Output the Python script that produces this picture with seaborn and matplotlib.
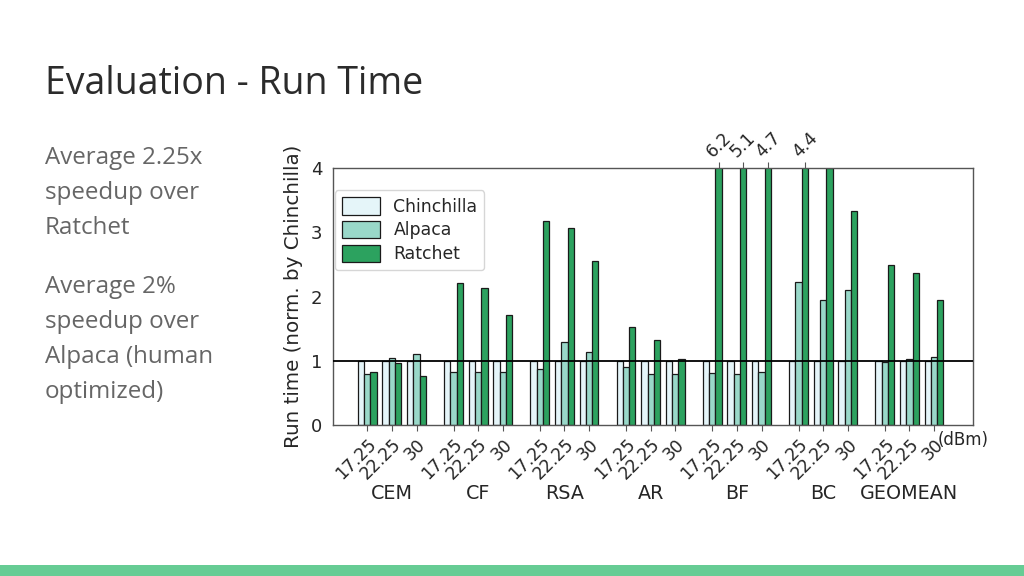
import numpy as np
import pandas as pd
import seaborn as sns
import matplotlib.pyplot as plt
import matplotlib.transforms as mtransforms
from matplotlib.patches import Rectangle

# data
benchmarks = ["CEM", "CF", "RSA", "AR", "BF", "BC", "GEOMEAN"]
powers = ["17.25", "22.25", "30"]
series = ["Chinchilla", "Alpaca", "Ratchet"]

chinchilla = [
    [1.0, 1.0, 1.0],
    [1.0, 1.0, 1.0],
    [1.0, 1.0, 1.0],
    [1.0, 1.0, 1.0],
    [1.0, 1.0, 1.0],
    [1.0, 1.0, 1.0],
    [1.0, 1.0, 1.0],
]
alpaca = [
    [0.79, 1.04, 1.10],
    [0.83, 0.82, 0.83],
    [0.87, 1.29, 1.13],
    [0.90, 0.80, 0.80],
    [0.81, 0.80, 0.82],
    [2.22, 1.95, 2.10],
    [0.985, 1.02, 1.06],
]
ratchet = [
    [0.825, 0.96, 0.77],
    [2.21, 2.13, 1.71],
    [3.18, 3.07, 2.55],
    [1.52, 1.33, 1.02],
    [6.2, 5.1, 4.7],
    [4.4, 4.0, 3.33],
    [2.49, 2.36, 1.94],
]

colors = {"Chinchilla": "#e5f5f9", "Alpaca": "#99d8c9", "Ratchet": "#2ca25f"}
group_step = 3.5
bar_w = 0.255
ymax = 4

rows = []
for g, bench in enumerate(benchmarks):
    for l, p in enumerate(powers):
        pos = g * group_step + l
        for name, vals in zip(series, [chinchilla, alpaca, ratchet]):
            rows.append({"pos": pos, "bench": bench, "power": p,
                         "series": name, "value": vals[g][l]})
df = pd.DataFrame(rows)

sns.set_style("white")
plt.rcParams['font.family'] = ['DejaVu Sans']

fig = plt.figure(figsize=(10.24, 5.76), dpi=100)
fig.patch.set_facecolor("white")

# slide decoration
fig.text(45 / 1024, 1 - 84 / 576, "Evaluation - Run Time", family="Open Sans",
         fontsize=27, color="#2b2b2b", va="center", ha="left")
side = [("Average 2.25x", 158), ("speedup over", 193), ("Ratchet", 228),
        ("Average 2%", 287), ("speedup over", 322), ("Alpaca (human", 357),
        ("optimized)", 392)]
for txt, y in side:
    fig.text(45 / 1024, 1 - y / 576, txt, family="Open Sans", fontsize=17.4,
             color="#666666", va="center", ha="left")
fig.patches.append(Rectangle((0, 0), 1, 11 / 576, transform=fig.transFigure,
                             facecolor="#66cc94", edgecolor="none"))

ax = fig.add_axes([333 / 1024, 1 - 425 / 576, 640 / 1024, 257 / 576])
sns.barplot(data=df, x="pos", y="value", hue="series", hue_order=series,
            palette=colors, native_scale=True, width=3 * bar_w, saturation=1,
            errorbar=None, edgecolor="#1a1a1a", linewidth=0.9, ax=ax)

ax.axhline(1, color="black", lw=1.3, zorder=5)
ax.set_xlim(-1.39, 24.58)
ax.set_ylim(0, ymax)
ax.set_yticks([0, 1, 2, 3, 4])
ax.tick_params(axis="y", labelsize=13, length=4, color="#555555")
ax.set_ylabel("Run time (norm. by Chinchilla)", fontsize=14.3, labelpad=6)
ax.set_xlabel("")

ticks = [g * group_step + l for g in range(len(benchmarks)) for l in range(len(powers))]
ax.set_xticks(ticks)
ax.set_xticklabels(powers * len(benchmarks), rotation=45, ha="right",
                   rotation_mode="anchor", fontsize=12.4)
ax.tick_params(axis="x", length=4, color="#555555")
for s in ax.spines.values():
    s.set_color("#555555")
    s.set_linewidth(1)

ax.text(0.944, -0.06, "(dBm)", transform=ax.transAxes, fontsize=12,
        ha="left", va="center")

trans = mtransforms.blended_transform_factory(ax.transData, ax.transAxes)
for g, bench in enumerate(benchmarks):
    ax.text(g * group_step + 1, -0.265, bench, transform=trans, fontsize=13.8,
            ha="center", va="center")

# labels for the clipped Ratchet bars
top_pos, top_lab = [], []
for g in range(len(benchmarks)):
    for l in range(len(powers)):
        v = ratchet[g][l]
        if v > ymax:
            top_pos.append(g * group_step + l + bar_w)
            top_lab.append(f"{v:.1f}")
ax2 = ax.twiny()
ax2.set_xlim(ax.get_xlim())
ax2.set_xticks(top_pos)
ax2.set_xticklabels(top_lab, rotation=45, fontsize=12.4)
ax2.tick_params(axis="x", length=4, color="#555555", pad=1)
for s in ax2.spines.values():
    s.set_visible(False)

ax.legend(loc="upper left", bbox_to_anchor=(0.003, 0.914), borderaxespad=0,
          fontsize=12.4, handlelength=2.2, handleheight=1.2, labelspacing=0.3,
          frameon=True, fancybox=True)

fig.savefig("out.png", dpi=100)
